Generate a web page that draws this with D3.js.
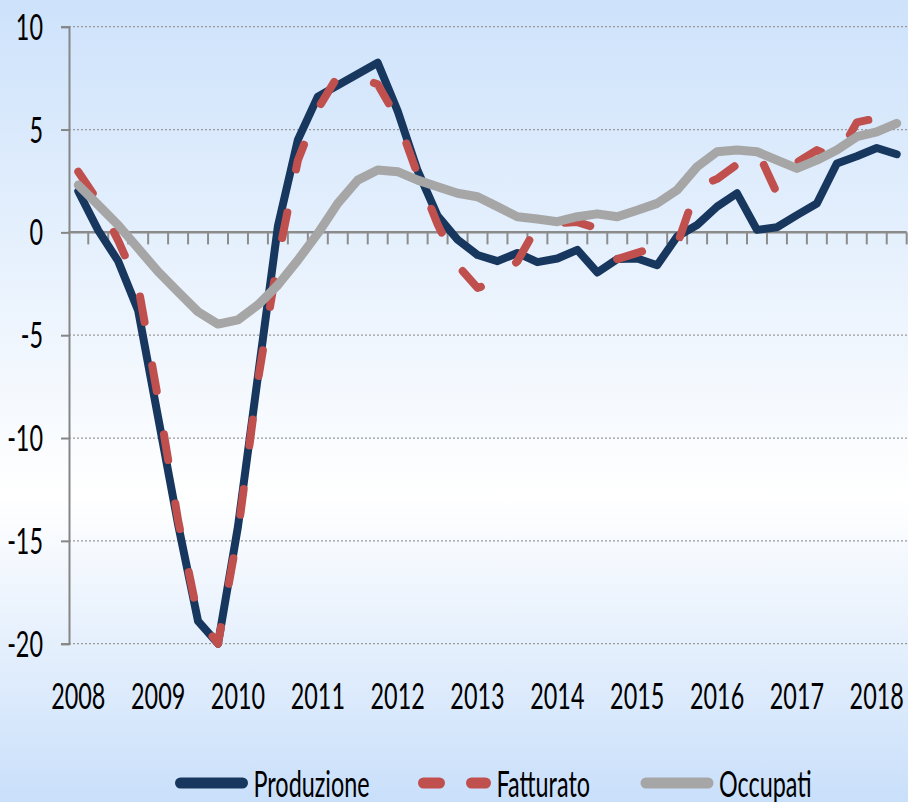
<!DOCTYPE html>
<html>
<head>
    <meta charset="utf-8" />
    <title></title>
    <style>
        body { margin: 0; }
        text {
            font-family: Lato, "Open Sans", sans-serif;
            font-size: 36px;
            fill: #000;
        }
        .grid line {
            stroke: #9a9a9a;
            stroke-width: 1.2px;
            stroke-dasharray: 2,2;
        }
    </style>
</head>
<body>
    <script src="https://d3js.org/d3.v7.min.js"></script>
    <script>
      var years = ["2008", "2009", "2010", "2011", "2012", "2013", "2014", "2015", "2016", "2017", "2018"];
      var quarterNames = ["T1", "T2", "T3", "T4"];
      var quarters = [];
      years.forEach(function(y) {
        quarterNames.forEach(function(q) { quarters.push(y + " " + q); });
      });
      quarters = quarters.slice(0, 42); // ends 2018 T2

      var produzione = [2.0, 0.1, -1.4, -3.8, -9.0, -14.2, -18.9, -20.0, -14.3, -7.0,
                        0.3, 4.5, 6.6, 7.15, 7.7, 8.25, 5.9, 3.0, 0.8, -0.35,
                        -1.1, -1.4, -1.0, -1.45, -1.27, -0.85, -1.95, -1.3, -1.27, -1.6,
                        -0.2, 0.36, 1.25, 1.9, 0.12, 0.25, 0.84, 1.4, 3.35, 3.7,
                        4.1, 3.8];
      var fatturato = [2.95, 1.5, -0.4, -2.6, -8.1, -14.0, -18.7, -20.0, -14.6, -7.2,
                       -1.3, 3.5, 6.0, 7.6, 7.55, 7.2, 5.5, 2.8, 0.4, -1.6,
                       -2.7, -2.4, -1.4, 0.3, 0.45, 0.5, 0.2, -1.3, -1.0, -0.7,
                       -0.6, 2.2, 2.6, 3.3, 4.0, 1.9, 3.4, 4.0, 3.6, 5.35,
                       5.55, 5.2];
      var occupati = [2.3, 1.33, 0.35, -0.78, -1.91, -2.89, -3.86, -4.46, -4.25, -3.53,
                      -2.56, -1.35, -0.05, 1.41, 2.54, 3.03, 2.95, 2.54, 2.22, 1.9,
                      1.73, 1.25, 0.76, 0.65, 0.52, 0.76, 0.9, 0.76, 1.08, 1.41,
                      2.06, 3.19, 3.92, 4.0, 3.92, 3.51, 3.11, 3.51, 4.0, 4.65,
                      4.89, 5.3];
      var yTicks = [10, 5, 0, -5, -10, -15, -20];
      var seriesNames = ["Produzione", "Fatturato", "Occupati"];
      var seriesColors = ["#17375e", "#c0504d", "#a6a6a6"];

      var width = 908, height = 802;
      var sx = 0.65; // narrow lettering

      var svg = d3.select("body").append("svg")
          .attr("width", width)
          .attr("height", height);

      var grad = svg.append("defs").append("linearGradient")
          .attr("id", "bg")
          .attr("x1", 0).attr("y1", 0).attr("x2", 0).attr("y2", 1);
      grad.append("stop").attr("offset", "0%").attr("stop-color", "#cde2fb");
      grad.append("stop").attr("offset", "62%").attr("stop-color", "#ffffff");
      grad.append("stop").attr("offset", "100%").attr("stop-color", "#c9dffa");

      svg.append("rect")
          .attr("width", width)
          .attr("height", height)
          .attr("fill", "url(#bg)");

      var x = d3.scaleBand().domain(quarters).range([68.3, 906.7]);
      var y = d3.scaleLinear().domain([-20, 10]).range([643.7, 26.7]);
      var cx = function(q) { return x(q) + x.bandwidth() / 2; };

      // gridlines
      svg.append("g").attr("class", "grid")
        .selectAll("line")
        .data(yTicks.filter(function(d) { return d !== 0; }))
        .enter().append("line")
          .attr("x1", 69).attr("x2", width)
          .attr("y1", function(d) { return y(d); })
          .attr("y2", function(d) { return y(d); });

      // y axis
      var yAxis = svg.append("g").attr("transform", "translate(69,0)")
          .call(d3.axisLeft(y).tickValues(yTicks).tickSize(8).tickFormat(""));
      yAxis.select(".domain").attr("stroke", "#868686").attr("stroke-width", 2);
      yAxis.selectAll(".tick line").attr("stroke", "#868686").attr("stroke-width", 2);

      svg.append("g").selectAll("text")
        .data(yTicks)
        .enter().append("text")
          .attr("text-anchor", "end")
          .attr("transform", function(d) { return "translate(43," + (y(d) + 13) + ") scale(" + sx + ",1)"; })
          .text(function(d) { return d; });

      // x axis at zero with quarter ticks
      var xAxis = svg.append("g").attr("transform", "translate(0," + y(0) + ")");
      xAxis.append("line")
          .attr("x1", x.range()[0]).attr("x2", x.range()[1])
          .attr("stroke", "#8c8c8c").attr("stroke-width", 2.5);
      xAxis.selectAll(".qt")
        .data(quarters.slice(1).concat(["end"]))
        .enter().append("line")
          .attr("class", "qt")
          .attr("x1", function(d, i) { return x(quarters[i]) + x.bandwidth(); })
          .attr("x2", function(d, i) { return x(quarters[i]) + x.bandwidth(); })
          .attr("y1", 0).attr("y2", 12)
          .attr("stroke", "#8c8c8c").attr("stroke-width", 2);

      svg.append("g").selectAll("text")
        .data(years)
        .enter().append("text")
          .attr("text-anchor", "middle")
          .attr("transform", function(d) { return "translate(" + cx(d + " T1") + ",709) scale(" + sx + ",1)"; })
          .text(function(d) { return d; });

      // series
      var series = [produzione, fatturato, occupati];
      var line = d3.line()
          .x(function(d, i) { return cx(quarters[i]); })
          .y(function(d) { return y(d); });

      svg.append("path").datum(produzione)
          .attr("d", line).attr("fill", "none")
          .attr("stroke", seriesColors[0]).attr("stroke-width", 8)
          .attr("stroke-linejoin", "round").attr("stroke-linecap", "round");
      svg.append("path").datum(fatturato)
          .attr("d", line).attr("fill", "none")
          .attr("stroke", seriesColors[1]).attr("stroke-width", 8)
          .attr("stroke-dasharray", "26,44")
          .attr("stroke-linejoin", "round").attr("stroke-linecap", "round");
      svg.append("path").datum(occupati)
          .attr("d", line).attr("fill", "none")
          .attr("stroke", seriesColors[2]).attr("stroke-width", 9)
          .attr("stroke-linejoin", "round").attr("stroke-linecap", "round");

      // legend
      var legendX = [180.5, 423.5, 646];
      var legend = svg.append("g").selectAll("g")
          .data(seriesNames)
          .enter().append("g")
          .attr("transform", function(d, i) { return "translate(" + legendX[i] + ",783)"; });
      legend.append("line")
          .attr("x1", 0).attr("x2", 62)
          .attr("stroke", function(d, i) { return seriesColors[i]; })
          .attr("stroke-width", 11)
          .attr("stroke-linecap", "round")
          .attr("stroke-dasharray", function(d, i) { return i === 1 ? "16,32" : null; });
      legend.append("text")
          .attr("transform", "translate(73,14) scale(" + sx + ",1)")
          .text(function(d) { return d; });
    </script>
</body>
</html>
